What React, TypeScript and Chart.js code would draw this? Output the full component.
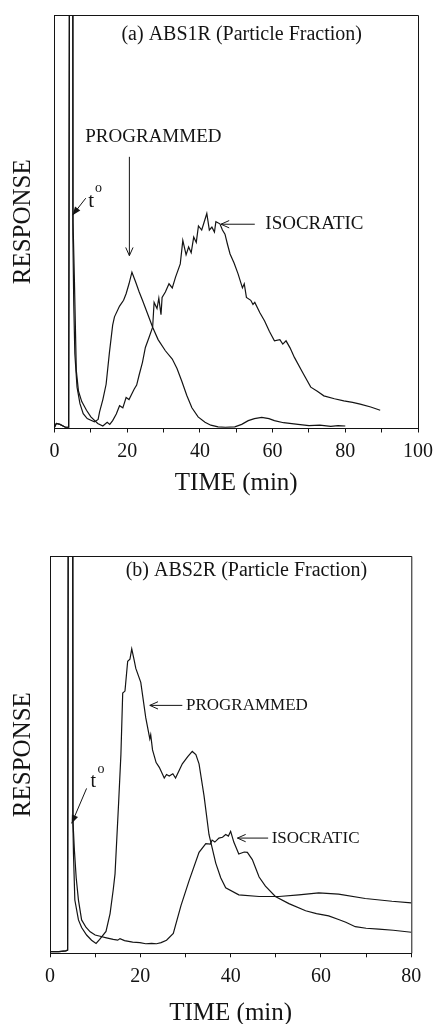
import React, { useEffect, useRef } from 'react';
import { Chart, registerables } from 'chart.js';

Chart.register(...registerables);

const FONT = "'Liberation Serif', 'Times New Roman', serif";
const INK = '#141414';

// ---------- Panel (a) ABS1R ----------
const programmedA: [number, number][] = [
  [0, 0.3], [0.5, 1.2], [1.5, 1.0], [3, 0.3], [3.9, 0.3], [4.2, 160], [5.0, 160], [5.05, 47], [5.3, 30], [5.6, 18],
  [6.2, 10], [7.0, 6.0], [7.9, 3.6], [9.0, 2.4], [10.0, 2.0], [11.0, 1.6], [12.0, 2.2], [12.4, 4.0], [13.3, 7.0], [14.2, 10.7],
  [15.1, 18.3], [16.0, 25], [16.5, 27], [17.9, 29.6], [19.0, 31], [19.7, 32.6], [20.5, 35], [21.3, 37.8], [22.3, 35.5], [23.3, 33],
  [24.2, 31], [25.5, 28], [27.0, 24.5], [28.5, 21.5], [30.5, 18.8], [32.4, 16.8], [33.7, 14.5], [35.0, 11.5], [36.4, 8], [37.8, 5],
  [39.5, 2.8], [41.4, 1.5], [43.0, 0.8], [45.0, 0.4], [47.0, 0.3], [49.6, 0.4], [51.5, 1.0], [53.3, 1.9], [55.0, 2.4], [57.0, 2.7],
  [59.0, 2.4], [60.5, 1.9], [63.0, 1.4], [67.0, 1.0], [70.0, 0.7], [73.0, 0.8], [76.0, 0.5], [78.0, 0.7], [80.0, 0.6],
];
const isocraticA: [number, number][] = [
  [0, 0.3], [0.5, 1.2], [1.5, 1.0], [3, 0.3], [3.9, 0.3], [4.2, 160], [5.0, 160], [5.1, 50], [5.5, 35], [6.0, 14],
  [6.6, 9], [7.5, 6.5], [8.8, 4.4], [10, 2.8], [11.9, 1.2], [13.3, 0.6], [14.5, 1.5], [15.2, 1.0], [16, 1.9], [17, 3.5],
  [17.9, 5.5], [18.8, 5.0], [19.7, 7.5], [20.5, 7.0], [21.9, 9.5], [22.6, 10.5], [23.3, 13], [24.2, 16], [25, 19.6], [26, 22],
  [27, 24.5], [27.4, 30.5], [28.2, 29], [28.7, 31.5], [29.3, 27.5], [29.6, 31.7], [30.5, 33], [31.5, 35], [32.4, 34], [33.3, 36.6],
  [34.6, 39.8], [35.3, 45.5], [36.2, 42], [36.9, 43.9], [37.6, 42.5], [38.3, 46.3], [39.0, 45], [39.6, 49], [40.5, 48], [41.2, 50],
  [41.9, 52], [42.6, 48], [43.3, 48.7], [44.0, 47.5], [44.4, 50], [45.5, 49.5], [46.2, 48], [46.9, 47], [47.6, 44.5], [48.3, 42.2],
  [49.4, 40], [50.5, 37.4], [51.7, 34], [52.2, 35], [52.8, 31.7], [54, 31], [54.6, 30], [55.1, 30.5], [56.5, 28], [57.8, 26],
  [59.1, 23.5], [60.5, 21.2], [62, 21.5], [62.8, 20.4], [63.7, 21.2], [64.8, 19.5], [66, 17.2], [68.3, 13.5], [70.5, 10], [72.3, 9],
  [74.1, 7.9], [77, 7.2], [79.6, 6.7], [82, 6.3], [84.1, 5.9], [87, 5.2], [89.6, 4.4],
];
const tickLabelsA = [0, 20, 40, 60, 80, 100];

// ---------- Panel (b) ABS2R ----------
const programmedB: [number, number][] = [
  [0, 0.4], [2, 0.4], [3.5, 0.6], [3.9, 0.8], [4.1, 160], [5.0, 160], [5.05, 34], [5.2, 25], [5.5, 13.4], [6.3, 8.4],
  [7.0, 6.5], [8.1, 4.6], [9.2, 3.3], [10.2, 2.5], [11.0, 3.5], [12.4, 5.5], [13.3, 10], [14.0, 16], [14.4, 20], [14.8, 29],
  [15.2, 38], [15.7, 50], [16.1, 65.5], [16.6, 66], [17.2, 73.5], [17.7, 74], [18.1, 76.6], [18.6, 74], [19.0, 71.7], [20.1, 68.2],
  [21.2, 59.3], [22.1, 54], [22.3, 55], [22.7, 51.2], [23.5, 48], [24.2, 46.8], [25.3, 44.1], [25.8, 45], [26.4, 44.6], [27.2, 45.2],
  [27.8, 44.1], [29.3, 47.7], [30.5, 49.5], [31.5, 50.8], [32.3, 50], [33, 47.7], [34.1, 39.7], [35.2, 29.9], [36.7, 22.7], [37.8, 19],
  [38.9, 16.5], [41.8, 14.7], [46.3, 14.3], [50.7, 14.3], [55.1, 14.7], [59.5, 15.2], [63.9, 14.9], [69.8, 13.8], [75.7, 13.1], [80, 12.7],
];
const isocraticB: [number, number][] = [
  [0, 0.4], [2, 0.4], [3.5, 0.6], [3.9, 0.8], [4.1, 160], [5.0, 160], [5.1, 33], [5.4, 26], [5.8, 19], [6.3, 13.4],
  [7.0, 8.4], [8.0, 6.5], [8.9, 5.4], [10, 4.6], [11.1, 4.3], [12.5, 3.9], [14.0, 3.5], [15.0, 3.3], [15.5, 3.7], [16.5, 3.2],
  [18.3, 2.8], [19.9, 2.7], [21.2, 2.4], [22.5, 2.5], [23.6, 2.4], [24.6, 2.7], [25.8, 3.3], [27.3, 5.0], [29, 12], [30.8, 18.3],
  [33, 25.4], [34.5, 27.6], [35.5, 27.5], [35.9, 28.5], [36.5, 28.0], [37.4, 29], [38.2, 29.2], [38.9, 29.9], [39.5, 29.5], [40.0, 30.7],
  [40.7, 28], [41.8, 25], [43.0, 25.5], [43.7, 25.4], [44.8, 23.6], [46.3, 19.2], [47.7, 16.9], [49.9, 14.3], [52.9, 12.5], [56.6, 10.7],
  [59, 10], [61.7, 9.4], [63.9, 8.5], [65.5, 7.8], [67.6, 6.7], [70, 6.3], [72.8, 6.1], [76, 5.8], [80, 5.3],
];
const tickLabelsB = [0, 20, 40, 60, 80];

type Ann =
  | { kind: 'text'; x: number; y: number; text: string; size: number }
  | { kind: 'arrow'; x1: number; y1: number; x2: number; y2: number; head: 'open' | 'filled' };

const annotationsA: Ann[] = [
  { kind: 'text', x: 51.5, y: 95.2, text: '(a) ABS1R (Particle Fraction)', size: 20 },
  { kind: 'text', x: 27.2, y: 70.5, text: 'PROGRAMMED', size: 19 },
  { kind: 'arrow', x1: 20.6, y1: 65.7, x2: 20.6, y2: 41.8, head: 'open' },
  { kind: 'text', x: 10.1, y: 54.8, text: 't', size: 21 },
  { kind: 'text', x: 12.1, y: 58.2, text: 'o', size: 14 },
  { kind: 'arrow', x1: 8.6, y1: 55.7, x2: 4.96, y2: 51.6, head: 'filled' },
  { kind: 'text', x: 71.5, y: 49.4, text: 'ISOCRATIC', size: 19 },
  { kind: 'arrow', x1: 55.1, y1: 49.4, x2: 45.8, y2: 49.4, head: 'open' },
];

const annotationsB: Ann[] = [
  { kind: 'text', x: 43.5, y: 96.2, text: '(b) ABS2R (Particle Fraction)', size: 20 },
  { kind: 'text', x: 43.6, y: 62.4, text: 'PROGRAMMED', size: 17 },
  { kind: 'arrow', x1: 29.3, y1: 62.4, x2: 22.1, y2: 62.4, head: 'open' },
  { kind: 'text', x: 9.6, y: 43.3, text: 't', size: 20 },
  { kind: 'text', x: 11.3, y: 46.4, text: 'o', size: 14 },
  { kind: 'arrow', x1: 8.1, y1: 41.5, x2: 4.8, y2: 32.7, head: 'filled' },
  { kind: 'text', x: 58.8, y: 29, text: 'ISOCRATIC', size: 17 },
  { kind: 'arrow', x1: 48.3, y1: 29, x2: 41.5, y2: 29, head: 'open' },
];

const annotationPlugin = {
  id: 'figAnnotations',
  afterDatasetsDraw(chart: any, _args: any, opts: any) {
    const items: Ann[] = opts.items || [];
    const { ctx } = chart;
    const xs = chart.scales.x;
    const ys = chart.scales.y;
    ctx.save();
    ctx.fillStyle = INK;
    ctx.strokeStyle = INK;
    ctx.lineWidth = 1;
    for (const it of items) {
      if (it.kind === 'text') {
        ctx.font = `${it.size}px ${FONT}`;
        ctx.textAlign = 'center';
        ctx.textBaseline = 'middle';
        ctx.fillText(it.text, xs.getPixelForValue(it.x), ys.getPixelForValue(it.y));
      } else {
        const x1 = xs.getPixelForValue(it.x1);
        const y1 = ys.getPixelForValue(it.y1);
        const x2 = xs.getPixelForValue(it.x2);
        const y2 = ys.getPixelForValue(it.y2);
        const ang = Math.atan2(y2 - y1, x2 - x1);
        ctx.beginPath();
        ctx.moveTo(x1, y1);
        ctx.lineTo(x2, y2);
        ctx.stroke();
        if (it.head === 'open') {
          const L = 9, a = 0.42;
          ctx.beginPath();
          ctx.moveTo(x2 - L * Math.cos(ang - a), y2 - L * Math.sin(ang - a));
          ctx.lineTo(x2, y2);
          ctx.lineTo(x2 - L * Math.cos(ang + a), y2 - L * Math.sin(ang + a));
          ctx.stroke();
        } else {
          const L = 9, a = 0.38;
          ctx.beginPath();
          ctx.moveTo(x2, y2);
          ctx.lineTo(x2 - L * Math.cos(ang - a), y2 - L * Math.sin(ang - a));
          ctx.lineTo(x2 - L * Math.cos(ang + a), y2 - L * Math.sin(ang + a));
          ctx.closePath();
          ctx.fill();
        }
      }
    }
    // top and right edges of the frame
    const { left, right, top, bottom } = chart.chartArea;
    ctx.beginPath();
    ctx.moveTo(left, top + 0.5);
    ctx.lineTo(right + 0.5, top + 0.5);
    ctx.lineTo(right + 0.5, bottom);
    ctx.stroke();
    ctx.restore();
  },
};

type PanelProps = {
  top: number;
  height: number;
  programmed: [number, number][];
  isocratic: [number, number][];
  tickLabels: number[];
  xMax: number;
  padTop: number;
  padRight: number;
  yWidth: number;
  xHeight: number;
  tickPad: number;
  xTitlePad: number;
  yTitlePad: number;
  annotations: Ann[];
};

function Panel(p: PanelProps) {
  const ref = useRef<HTMLCanvasElement | null>(null);
  useEffect(() => {
    if (!ref.current) return;
    const line = (pts: [number, number][]) => ({
      data: pts.map(([x, y]) => ({ x, y })),
      borderColor: INK,
      borderWidth: 1.2,
      pointRadius: 0,
      tension: 0,
      fill: false,
    });
    const chart = new Chart(ref.current, {
      type: 'line',
      data: { datasets: [line(p.programmed) as any, line(p.isocratic) as any] },
      options: {
        animation: false,
        responsive: false,
        maintainAspectRatio: false,
        layout: { padding: { top: p.padTop, right: p.padRight, left: 0, bottom: 0 } },
        plugins: {
          legend: { display: false },
          tooltip: { enabled: false },
          figAnnotations: { items: p.annotations },
        } as any,
        scales: {
          x: {
            type: 'linear',
            min: 0,
            max: p.xMax,
            afterFit: (s: any) => { s.height = p.xHeight; },
            ticks: {
              stepSize: 10,
              autoSkip: false,
              maxRotation: 0,
              padding: p.tickPad,
              color: INK,
              font: { family: FONT, size: 20, lineHeight: 1.2 },
              callback: (v: any) => (p.tickLabels.includes(Number(v)) ? String(v) : ''),
            },
            grid: { display: true, drawOnChartArea: false, drawTicks: true, tickLength: 4, color: INK, lineWidth: 1 },
            border: { display: true, color: INK, width: 1 },
            title: {
              display: true,
              text: 'TIME (min)',
              color: INK,
              font: { family: FONT, size: 25, lineHeight: 1 },
              padding: { top: 0, bottom: p.xTitlePad },
            },
          },
          y: {
            type: 'linear',
            min: 0,
            max: 100,
            afterFit: (s: any) => { s.width = p.yWidth; },
            ticks: { display: false },
            grid: { display: false },
            border: { display: true, color: INK, width: 1 },
            title: {
              display: true,
              text: 'RESPONSE',
              color: INK,
              font: { family: FONT, size: 25, lineHeight: 1 },
              padding: { top: p.yTitlePad, bottom: 0 },
            },
          },
        },
      },
      plugins: [annotationPlugin],
    });
    return () => chart.destroy();
  }, []);
  return (
    <canvas
      ref={ref}
      width={440}
      height={p.height}
      style={{ position: 'absolute', left: 0, top: p.top, width: 440, height: p.height }}
    />
  );
}

export default function App() {
  return (
    <div style={{ position: 'absolute', left: 0, top: 0, width: 440, height: 1024, overflow: 'hidden', background: '#fff' }}>
      <Panel
        top={0}
        height={500}
        programmed={programmedA}
        isocratic={isocraticA}
        tickLabels={tickLabelsA}
        xMax={100}
        padTop={15}
        padRight={19}
        yWidth={54.5}
        xHeight={71.5}
        tickPad={7}
        xTitlePad={4.5}
        yTitlePad={11}
        annotations={annotationsA}
      />
      <Panel
        top={500}
        height={524}
        programmed={programmedB}
        isocratic={isocraticB}
        tickLabels={tickLabelsB}
        xMax={80}
        padTop={56}
        padRight={28.7}
        yWidth={50}
        xHeight={70.7}
        tickPad={7.5}
        xTitlePad={-1.5}
        yTitlePad={11}
        annotations={annotationsB}
      />
    </div>
  );
}
